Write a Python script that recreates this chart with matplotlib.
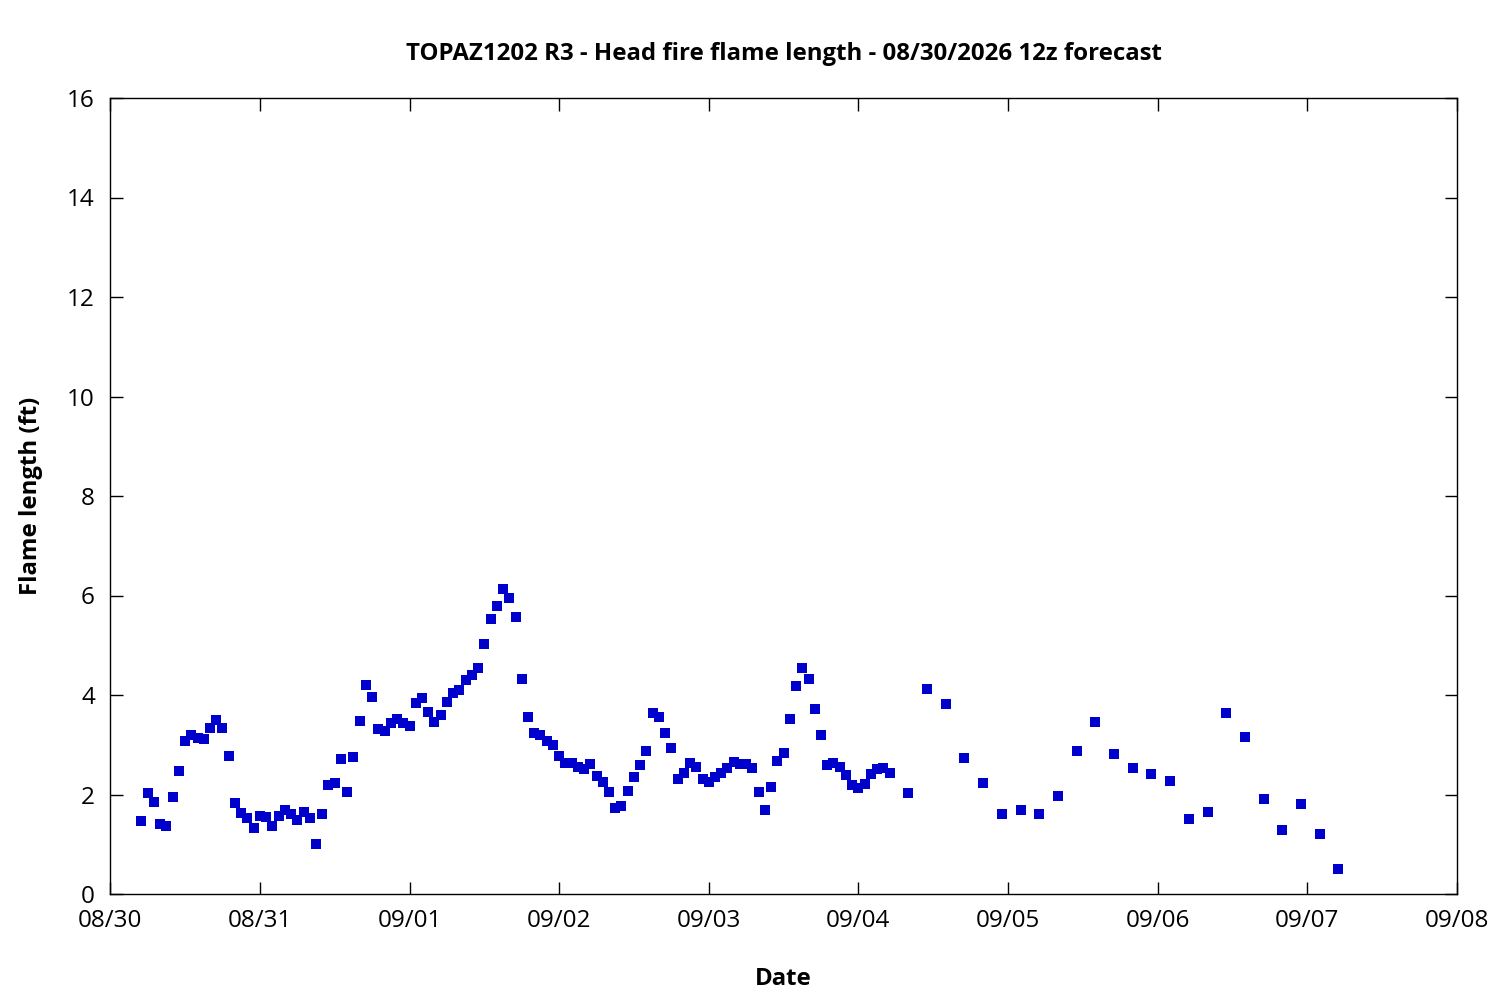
import numpy as np
import pandas as pd
import matplotlib
matplotlib.use('Agg')
import matplotlib.pyplot as plt
import matplotlib.dates as mdates

plt.rcParams['font.family'] = ['Open Sans', 'DejaVu Sans']

# hours after 08/30 00:00
hourly_hours = list(range(5, 126))
hourly_vals = [
    1.46, 2.04, 1.84, 1.40, 1.36, 1.94, 2.48, 3.08, 3.19, 3.14,
    3.12, 3.34, 3.50, 3.34, 2.78, 1.82, 1.62, 1.52, 1.32, 1.56,
    1.54, 1.36, 1.56, 1.69, 1.60, 1.48, 1.64, 1.52, 1.00, 1.60,
    2.20, 2.24, 2.72, 2.06, 2.76, 3.48, 4.21, 3.95, 3.32, 3.28,
    3.44, 3.52, 3.44, 3.38, 3.83, 3.93, 3.66, 3.46, 3.60, 3.85,
    4.05, 4.11, 4.31, 4.41, 4.55, 5.03, 5.53, 5.79, 6.13, 5.95,
    5.57, 4.33, 3.56, 3.24, 3.20, 3.08, 3.00, 2.78, 2.64, 2.64,
    2.56, 2.52, 2.62, 2.38, 2.26, 2.06, 1.72, 1.76, 2.08, 2.36,
    2.60, 2.88, 3.64, 3.56, 3.24, 2.94, 2.32, 2.44, 2.64, 2.56,
    2.32, 2.26, 2.36, 2.44, 2.54, 2.66, 2.62, 2.62, 2.54, 2.06,
    1.68, 2.16, 2.68, 2.84, 3.52, 4.19, 4.55, 4.33, 3.71, 3.20,
    2.60, 2.64, 2.56, 2.40, 2.20, 2.14, 2.22, 2.42, 2.52, 2.54,
    2.44,
]
three_hourly_hours = list(range(128, 198, 3))
three_hourly_vals = [
    2.04, 4.13, 3.81, 2.74, 2.24, 1.60, 1.68, 1.60, 1.96, 2.88,
    3.46, 2.82, 2.54, 2.42, 2.28, 1.50, 1.64, 3.64, 3.16, 1.90,
    1.28, 1.80, 1.20, 0.50,
]

start = pd.Timestamp('2026-08-30 00:00')
hours = hourly_hours + three_hourly_hours
vals = hourly_vals + three_hourly_vals
times = [start + pd.Timedelta(hours=h) for h in hours]

fig = plt.figure(figsize=(15, 10), dpi=100)
ax = fig.add_axes([0.0735, 0.106, 0.8978, 0.796])

ax.plot(times, vals, 's', color='#0000cc', markersize=6.6, markeredgewidth=0, linestyle='none')

ax.set_xlim(start, start + pd.Timedelta(days=9))
ax.set_ylim(0, 16)
ax.set_yticks(range(0, 17, 2))
ax.xaxis.set_major_locator(mdates.DayLocator())
ax.xaxis.set_major_formatter(mdates.DateFormatter('%m/%d'))

ax.tick_params(direction='in', length=9, width=1, top=True, right=True,
               labelsize=17.5, pad=11)
for s in ax.spines.values():
    s.set_linewidth(1)

ax.set_title('TOPAZ1202 R3 - Head fire flame length - 08/30/2026 12z forecast',
             fontsize=17.3, fontweight='bold', pad=27)
ax.set_xlabel('Date', fontsize=17.3, fontweight='bold', labelpad=24)
ax.set_ylabel('Flame length (ft)', fontsize=17.3, fontweight='bold', labelpad=17)

fig.savefig('out.png', dpi=100)
